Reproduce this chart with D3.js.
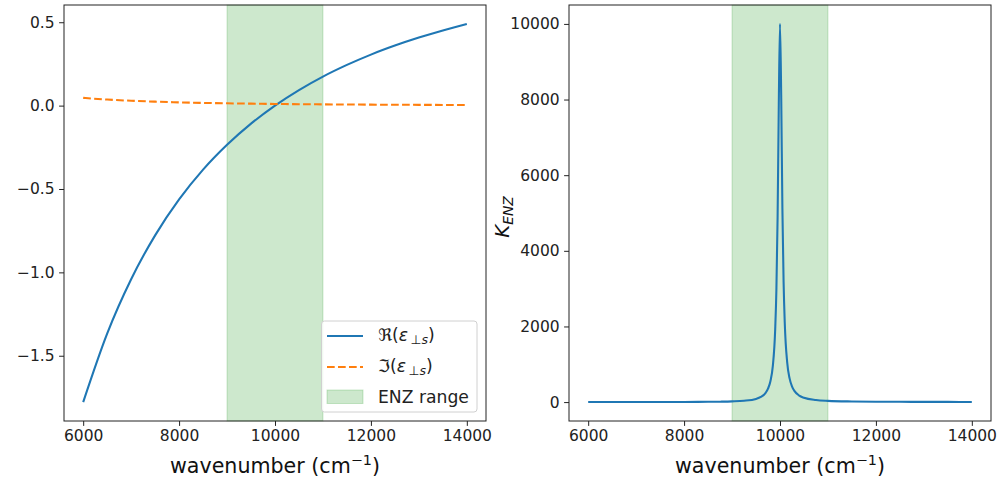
<!doctype html>
<html lang="en">

<head>
  <meta charset="UTF-8">
  <title>ENZ</title>
  <style type="text/css">
    body { margin: 0; background: #fff; }
    svg { font-family: "DejaVu Sans", sans-serif; }
  </style>
  <script src="https://cdn.jsdelivr.net/npm/d3@7"></script>
</head>

<body>
  <svg width="1000" height="486"></svg>
  <script>
    // values
    let epsX = [6000, 6500, 7000, 7500, 8000, 8500, 9000, 9500, 10000, 10500, 11000, 11500, 12000, 12500, 13000, 13500, 14000]
    let epsRe = [-1.778, -1.367, -1.041, -0.778, -0.5625, -0.384, -0.235, -0.108, 0.0, 0.093, 0.174, 0.244, 0.306, 0.36, 0.408, 0.451, 0.49]
    let epsIm = [0.0463, 0.0364, 0.0292, 0.0237, 0.0195, 0.0163, 0.0137, 0.0117, 0.0100, 0.0086, 0.0075, 0.0066, 0.0058, 0.0051, 0.0046, 0.0041, 0.0036]

    let kX = [6000, 6500, 7000, 7500, 8000, 8500, 8750, 9000, 9250, 9500, 9600, 9700, 9750, 9800, 9850, 9900, 9925, 9950, 9975,
      10000, 10025, 10050, 10075, 10100, 10150, 10200, 10250, 10300, 10400, 10500, 10750, 11000, 11500, 12000, 12500, 13000, 13500, 14000]
    let kY = [0.32, 0.54, 0.92, 1.65, 3.2, 6.8, 10.7, 18.1, 34.9, 84.6, 136, 245, 355, 552, 949, 1930, 2985, 4886, 7893,
      10000, 8110, 5113, 3174, 2073, 1050, 626, 415, 296, 173, 115, 55, 33, 16.8, 10.7, 7.7, 6.0, 4.9, 4.2]

    let enzBand = [9000, 11000]
    let xTicks = [6000, 8000, 10000, 12000, 14000]
    let yTicksLeft = [-1.5, -1.0, -0.5, 0.0, 0.5]
    let yTicksRight = [0, 2000, 4000, 6000, 8000, 10000]

    let svg = d3.select('svg')
    let yTop = 5, yBot = 421
    let bandFill = 'rgba(44,160,44,0.24)'

    function pad(ext) {
      let m = (ext[1] - ext[0]) * 0.05
      return [ext[0] - m, ext[1] + m]
    }

    let xDomain = pad([6000, 14000])

    function drawAxes(left, right, yDomain, yTicks, yFmt) {
      let x = d3.scaleLinear().domain(xDomain).range([left, right])
      let y = d3.scaleLinear().domain(yDomain).range([yBot, yTop])
      let g = svg.append('g')
      // band
      g.append('rect')
        .attr('x', x(enzBand[0])).attr('y', yTop)
        .attr('width', x(enzBand[1]) - x(enzBand[0])).attr('height', yBot - yTop)
        .attr('fill', bandFill)
        .attr('stroke', bandFill)
      let plot = g.append('g')
      let ax = g.append('g')
      // x axis
      let xa = ax.append('g').attr('transform', 'translate(0,' + yBot + ')')
        .call(d3.axisBottom(x).tickValues(xTicks).tickFormat(d3.format('d')).tickSize(4.9).tickPadding(4.5))
      let ya = ax.append('g').attr('transform', 'translate(' + left + ',0)')
        .call(d3.axisLeft(y).tickValues(yTicks).tickFormat(yFmt).tickSize(4.9).tickPadding(4.5))
      ;[xa, ya].forEach(a => {
        a.select('.domain').remove()
        a.selectAll('text').attr('font-size', 15.5).attr('fill', '#222').attr('font-family', 'DejaVu Sans')
        a.selectAll('line').attr('stroke', '#222').attr('stroke-width', 1)
      })
      ax.append('rect')
        .attr('x', left).attr('y', yTop).attr('width', right - left).attr('height', yBot - yTop)
        .attr('fill', 'none').attr('stroke', '#222').attr('stroke-width', 1)
      // x label
      let xl = g.append('text').attr('x', (left + right) / 2).attr('y', 473)
        .attr('text-anchor', 'middle').attr('font-size', 20.6).attr('fill', '#111')
      xl.append('tspan').text('wavenumber (cm')
      xl.append('tspan').text('\u22121').attr('font-size', 14.4).attr('dy', -8.5)
      xl.append('tspan').text(')').attr('dy', 8.5)
      return { x: x, y: y, plot: plot }
    }

    // left panel
    let L = drawAxes(64, 486, pad([d3.min(epsRe), d3.max(epsRe)]), yTicksLeft, d3.format('.1f'))
    let lineRe = d3.line().x((d, i) => L.x(epsX[i])).y(d => L.y(d)).curve(d3.curveMonotoneX)
    L.plot.append('path').datum(epsRe).attr('d', lineRe)
      .attr('fill', 'none').attr('stroke', '#1f77b4').attr('stroke-width', 2.08)
    L.plot.append('path').datum(epsIm).attr('d', lineRe)
      .attr('fill', 'none').attr('stroke', '#ff7f0e').attr('stroke-width', 2.08)
      .attr('stroke-dasharray', '7.7,3.3')

    // legend
    let lg = svg.append('g')
    lg.append('rect').attr('x', 321.5).attr('y', 321).attr('width', 155.5).attr('height', 91)
      .attr('rx', 3).attr('fill', 'rgba(255,255,255,0.8)').attr('stroke', '#d0d0d0')
    let rows = [336, 367, 397]
    lg.append('line').attr('x1', 327).attr('x2', 363).attr('y1', rows[0]).attr('y2', rows[0])
      .attr('stroke', '#1f77b4').attr('stroke-width', 2.08)
    lg.append('line').attr('x1', 327).attr('x2', 363).attr('y1', rows[1]).attr('y2', rows[1])
      .attr('stroke', '#ff7f0e').attr('stroke-width', 2.08).attr('stroke-dasharray', '7.7,3.3')
    lg.append('rect').attr('x', 327).attr('y', rows[2] - 7).attr('width', 36).attr('height', 13.5)
      .attr('fill', bandFill).attr('stroke', bandFill)
    ;['\u211C', '\u2111'].forEach((s, i) => {
      let t = lg.append('text').attr('x', 378).attr('y', rows[i] + 5).attr('font-size', 17.2).attr('fill', '#222')
      t.append('tspan').text(s + '(')
      t.append('tspan').text('\u03B5').attr('font-style', 'italic')
      t.append('tspan').text('\u2009\u22A5').attr('font-size', 12.5).attr('dy', 3)
      t.append('tspan').text('s').attr('font-size', 12.5).attr('font-style', 'italic')
      t.append('tspan').text(')').attr('dy', -3)
    })
    lg.append('text').attr('x', 378).attr('y', rows[2] + 6).attr('font-size', 17.2).attr('fill', '#222').text('ENZ range')

    // right panel
    let R = drawAxes(569, 991, pad([0, 10000]), yTicksRight, d3.format('d'))
    let lineK = d3.line().x((d, i) => R.x(kX[i])).y(d => R.y(d)).curve(d3.curveMonotoneX)
    R.plot.append('path').datum(kY).attr('d', lineK)
      .attr('fill', 'none').attr('stroke', '#1f77b4').attr('stroke-width', 2.08)

    let yl = svg.append('text').attr('transform', 'translate(509,217) rotate(-90)')
      .attr('text-anchor', 'middle').attr('font-size', 19.8).attr('fill', '#111')
    yl.append('tspan').text('K').attr('font-style', 'italic')
    yl.append('tspan').text('ENZ').attr('font-style', 'italic').attr('font-size', 13.8).attr('dy', 3.5)
  </script>
</body>

</html>
